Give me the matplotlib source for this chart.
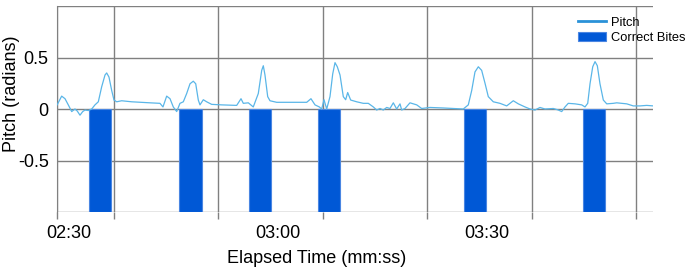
import matplotlib
matplotlib.use("Agg")
import matplotlib.pyplot as plt
from matplotlib.ticker import FuncFormatter

plt.rcParams['font.family'] = ['Liberation Sans', 'DejaVu Sans']

# pitch trace, time in seconds, pitch in radians
pitch_t = [148.3, 148.95, 149.43, 149.90, 150.39, 150.86, 151.19, 151.58, 151.97, 152.30,
           152.77, 153.26, 153.73, 154.21, 154.69, 155.17, 155.41, 155.74, 156.13, 156.46,
           156.85, 157.56, 158.28, 159.00, 160.19, 161.63, 163.06, 163.49, 164.02, 164.50,
           164.97, 165.46, 165.93, 166.41, 166.89, 167.37, 167.84, 168.19, 168.56, 168.80,
           169.28, 169.76, 170.48, 171.92, 174.07, 174.69, 175.02, 175.74, 176.45, 177.17,
           177.66, 177.89, 178.13, 178.52, 178.85, 179.81, 181.72, 184.12, 184.73, 185.31,
           185.93, 186.27, 186.60, 186.99, 187.46, 187.85, 188.18, 188.51, 188.90, 189.37,
           189.71, 190.00, 190.43, 191.29, 192.24, 192.96, 193.68, 194.16, 194.64, 195.11,
           195.60, 196.07, 196.55, 197.03, 197.51, 197.75, 198.23, 198.94, 199.91, 200.62,
           201.81, 203.72, 205.65, 206.59, 207.31, 207.80, 208.27, 208.75, 209.23, 209.71,
           210.18, 210.90, 211.86, 212.82, 213.77, 214.49, 215.45, 216.17, 216.89, 217.60,
           218.32, 219.51, 220.23, 220.72, 221.19, 221.66, 222.63, 223.59, 224.06, 224.45,
           224.78, 225.17, 225.50, 225.83, 226.21, 226.69, 227.18, 228.12, 228.61, 230.05,
           230.99, 231.96, 232.92, 233.86]
pitch = [0.04, 0.125, 0.10, 0.04, -0.025, 0.0, -0.02, -0.06, -0.025, -0.01,
         -0.015, 0.0, 0.04, 0.07, 0.215, 0.33, 0.35, 0.31, 0.18, 0.087,
         0.07, 0.08, 0.075, 0.07, 0.065, 0.06, 0.055, 0.02, 0.125, 0.10,
         0.02, -0.025, 0.055, 0.07, 0.15, 0.245, 0.27, 0.245, 0.087, 0.04,
         0.09, 0.07, 0.045, 0.04, 0.035, 0.10, 0.055, 0.06, 0.02, 0.15,
         0.375, 0.42, 0.33, 0.12, 0.08, 0.065, 0.065, 0.065, 0.10, 0.04,
         0.02, 0.0, 0.09, 0.0, 0.12, 0.34, 0.45, 0.41, 0.33, 0.12,
         0.09, 0.16, 0.087, 0.07, 0.055, 0.055, 0.02, -0.01, 0.005, -0.01,
         0.015, 0.005, 0.06, 0.0, 0.05, -0.01, 0.005, 0.06, 0.04, 0.005,
         0.015, 0.01, 0.003, 0.0, 0.04, 0.18, 0.36, 0.41, 0.375, 0.25,
         0.12, 0.07, 0.055, 0.03, 0.08, 0.05, 0.02, 0.0, -0.01, 0.015,
         0.0, 0.005, -0.01, -0.025, 0.02, 0.055, 0.05, 0.04, 0.02, 0.055,
         0.245, 0.41, 0.46, 0.42, 0.245, 0.087, 0.05, 0.055, 0.06, 0.05,
         0.03, 0.03, 0.035, 0.03]

# correct bites (bar centres in seconds)
bite_t = [154.45, 167.44, 177.37, 187.32, 208.28, 225.36]
bite_val = [-1, -1, -1, -1, -1, -1]
bite_w = 3.16

xticks = [150, 180, 210]
grid_x = [148.28, 156.4, 171.4, 186.4, 201.4, 216.4, 231.4]
yticks = [-1, -0.5, 0, 0.5, 1]

fig = plt.figure(figsize=(6.86, 2.69), dpi=100)
ax = fig.add_axes([57/686, 1 - 212/269, 596/686, 206/269])

bars = ax.bar(bite_t, bite_val, width=bite_w, color='#0058d6', edgecolor='#4a86e2',
              linewidth=0.8, label='Correct Bites', zorder=3)
line, = ax.plot(pitch_t, pitch, color='#5ab6e8', lw=0.9, label='Pitch', zorder=4)

ax.set_xlim(148.28, 233.82)
ax.set_ylim(-1, 1)

ax.set_xticks(xticks)
ax.xaxis.set_major_formatter(FuncFormatter(lambda v, p: "%02d:%02d" % (int(v) // 60, int(v) % 60)))
ax.set_xticks(grid_x, minor=True)
ax.tick_params(axis='x', which='major', length=0, pad=9.5, labelsize=13)
ax.tick_params(axis='x', which='minor', length=5, width=1, color='#808080')
ax.set_yticks(yticks)
ax.set_yticklabels(['', '-0.5', '0', '0.5', ''])
ax.tick_params(axis='y', length=0, pad=6, labelsize=13)

ax.grid(True, which='minor', axis='x', color='#808080', lw=1)
ax.grid(True, which='major', axis='y', color='#808080', lw=1)
ax.set_axisbelow(True)
for s in ['top', 'right', 'bottom']:
    ax.spines[s].set_visible(False)
ax.spines['left'].set_color('#808080')

ax.set_xlabel('Elapsed Time (mm:ss)', fontsize=13)
ax.xaxis.set_label_coords(0.436, -0.185)
ax.set_ylabel('Pitch (radians)', fontsize=13)
ax.yaxis.set_label_coords(-0.062, 0.575)

leg = fig.legend([line, bars], ['Pitch', 'Correct Bites'], loc='upper left',
                 bbox_to_anchor=(572/686, 1 - 10/269), frameon=False, fontsize=9.3,
                 borderpad=0, handlelength=2.1, handletextpad=0.45, labelspacing=0.3)
leg.get_lines()[0].set_color('#2a92d8')
leg.get_lines()[0].set_linewidth(2)

fig.savefig('out.png', dpi=100)
